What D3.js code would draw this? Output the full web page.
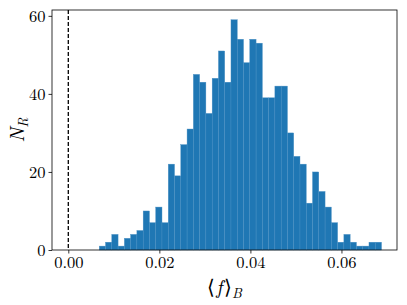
<!DOCTYPE html>
<html>
<head>
<meta charset="utf-8">
<script src="https://cdn.jsdelivr.net/npm/d3@7"></script>
<style>
  body { margin: 0; background: #fff; }
</style>
</head>
<body>
<div id="chart"></div>
<script>
// histogram counts, 45 equal bins between binMin and binMax
const counts = [1, 2, 4, 1, 3, 4, 5, 10, 7, 11, 7, 22, 19, 27, 31,
                45, 43, 35, 44, 51, 43, 59, 54, 48, 54, 53, 39, 39, 42, 42,
                30, 24, 22, 12, 20, 15, 11, 7, 2, 4, 2, 1, 1, 2, 2];
const binMin = 0.0068, binMax = 0.0688;
const xTicks = [0, 0.02, 0.04, 0.06];
const yTicks = [0, 20, 40, 60];
const refLine = 0;

const serif = '"Latin Modern Roman", "Liberation Serif", serif';
const w = 407, h = 305;
const margin = {left: 52, right: 10, top: 10, bottom: 55};

const binW = (binMax - binMin) / counts.length;
const bins = counts.map((c, i) => ({x0: binMin + i * binW, x1: binMin + (i + 1) * binW, n: c}));

const xScale = d3.scaleLinear()
    .domain([-0.00358, 0.0722])
    .range([margin.left, w - margin.right]);
const yScale = d3.scaleLinear()
    .domain([0, 61.5])
    .range([h - margin.bottom, margin.top]);

const svg = d3.select("#chart").append("svg")
    .attr("width", w)
    .attr("height", h);

svg.append("g")
    .selectAll("rect")
    .data(bins)
    .enter().append("rect")
    .attr("x", d => xScale(d.x0))
    .attr("width", d => xScale(d.x1) - xScale(d.x0))
    .attr("y", d => yScale(d.n))
    .attr("height", d => yScale(0) - yScale(d.n))
    .attr("fill", "#1f77b4")
    .attr("stroke", "#4a90c4")
    .attr("stroke-width", 0.4);

svg.append("line")
    .attr("x1", xScale(refLine)).attr("x2", xScale(refLine))
    .attr("y1", margin.top).attr("y2", h - margin.bottom)
    .attr("stroke", "#000")
    .attr("stroke-width", 1.3)
    .attr("stroke-dasharray", "4,2");

// frame
svg.append("rect")
    .attr("x", margin.left).attr("y", margin.top)
    .attr("width", w - margin.left - margin.right)
    .attr("height", h - margin.top - margin.bottom)
    .attr("fill", "none")
    .attr("stroke", "#000")
    .attr("stroke-width", 0.8);

const xAxis = d3.axisBottom(xScale).tickValues(xTicks).tickFormat(d3.format(".2f")).tickSize(3.5).tickPadding(3);
svg.append("g")
    .attr("transform", `translate(0, ${h - margin.bottom})`)
    .call(xAxis)
    .call(g => g.select(".domain").remove())
    .call(g => g.selectAll("text").attr("font-size", 16.5).attr("fill", "#000").style("font-family", serif))
    .call(g => g.selectAll("line").attr("stroke-width", 0.8));

const yAxis = d3.axisLeft(yScale).tickValues(yTicks).tickSize(3.5).tickPadding(3);
svg.append("g")
    .attr("transform", `translate(${margin.left}, 0)`)
    .call(yAxis)
    .call(g => g.select(".domain").remove())
    .call(g => g.selectAll("text").attr("font-size", 16.5).attr("fill", "#000").style("font-family", serif))
    .call(g => g.selectAll("line").attr("stroke-width", 0.8));

// axis labels
const xl = svg.append("text")
    .attr("x", (margin.left + w - margin.right) / 2)
    .attr("y", 294)
    .attr("text-anchor", "middle")
    .style("font-family", serif)
    .attr("font-size", 20);
xl.append("tspan").text("\u27E8");
xl.append("tspan").attr("font-style", "italic").attr("dx", 1).text("f");
xl.append("tspan").attr("dx", 1.5).text("\u27E9");
xl.append("tspan").attr("font-style", "italic").attr("font-size", 14).attr("dy", 4).text("B");

const yl = svg.append("text")
    .attr("transform", `translate(24, ${(margin.top + h - margin.bottom) / 2}) rotate(-90)`)
    .attr("text-anchor", "middle")
    .style("font-family", serif)
    .attr("font-size", 20);
yl.append("tspan").attr("font-style", "italic").text("N");
yl.append("tspan").attr("font-style", "italic").attr("font-size", 14).attr("dy", 4).text("R");
</script>
</body>
</html>
